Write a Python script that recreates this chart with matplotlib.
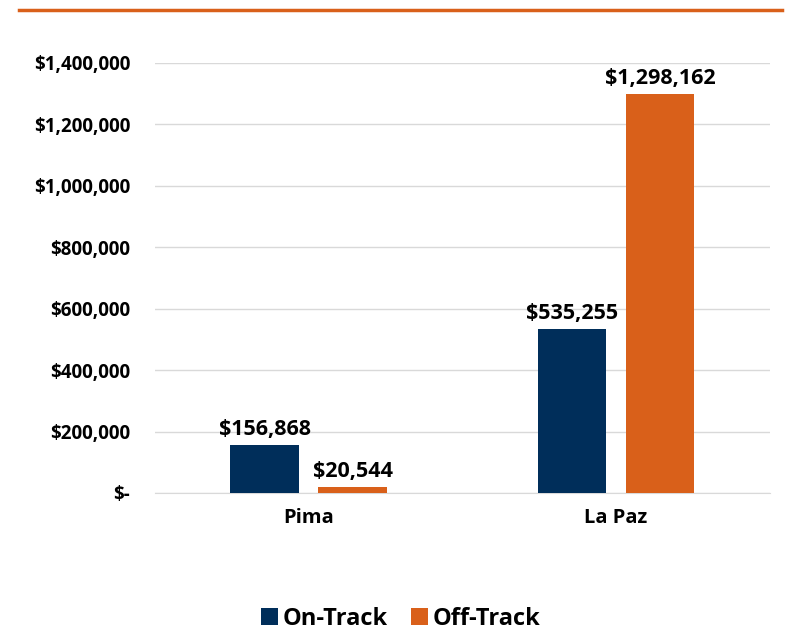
import matplotlib
matplotlib.use("Agg")
import matplotlib.pyplot as plt
from matplotlib.lines import Line2D
import numpy as np

categories = ["Pima", "La Paz"]
on_track = [156868, 535255]
off_track = [20544, 1298162]
series_names = ["On-Track", "Off-Track"]
colors = ["#002E5A", "#D9601A"]

plt.rcParams['font.family'] = ['Open Sans', 'DejaVu Sans']
plt.rcParams['font.weight'] = 'bold'

fig = plt.figure(figsize=(7.87, 6.33), dpi=100)
ax = fig.add_axes([0.197, 0.2212, 0.781, 0.6793])

x = np.arange(len(categories))
w = 0.224
off = 0.143
b1 = ax.bar(x - off, on_track, w, color=colors[0], label=series_names[0], zorder=3)
b2 = ax.bar(x + off, off_track, w, color=colors[1], label=series_names[1], zorder=3)

for bars, vals in [(b1, on_track), (b2, off_track)]:
    for b, v in zip(bars, vals):
        ax.annotate(f"${v:,.0f}", (b.get_x() + b.get_width() / 2, v),
                    xytext=(0, 3.5), textcoords="offset points",
                    ha="center", va="bottom", fontsize=15.5, fontweight="bold")

ax.set_xlim(-0.5, 1.5)
ax.set_ylim(0, 1400000)
yt = np.arange(0, 1400001, 200000)
ax.set_yticks(yt)
ax.set_yticklabels(["$-"] + [f"${v:,.0f}" for v in yt[1:]], fontsize=13.5, fontweight="bold")
ax.set_xticks(x)
ax.set_xticklabels(categories, fontsize=14.5, fontweight="bold")
ax.grid(axis="y", color="#D9D9D9", linewidth=1, zorder=0)
for s in ["top", "right", "left"]:
    ax.spines[s].set_visible(False)
ax.spines["bottom"].set_color("#D9D9D9")
ax.tick_params(axis="y", length=0, pad=18)
ax.tick_params(axis="x", length=0, pad=11)

fig.add_artist(Line2D([19/787, 782/787], [1 - 9.5/633, 1 - 9.5/633],
                      color="#D9601A", linewidth=2.5, transform=fig.transFigure))

leg = fig.legend(handles=[b1, b2], labels=series_names, loc="center",
                 bbox_to_anchor=(0.509, 1 - 619/633), ncol=2, frameon=False,
                 prop={"weight": "bold", "size": 17}, handlelength=0.7,
                 handleheight=0.7, handletextpad=0.2, columnspacing=1.0,
                 borderpad=0.1)

fig.savefig("out.png", dpi=100)
